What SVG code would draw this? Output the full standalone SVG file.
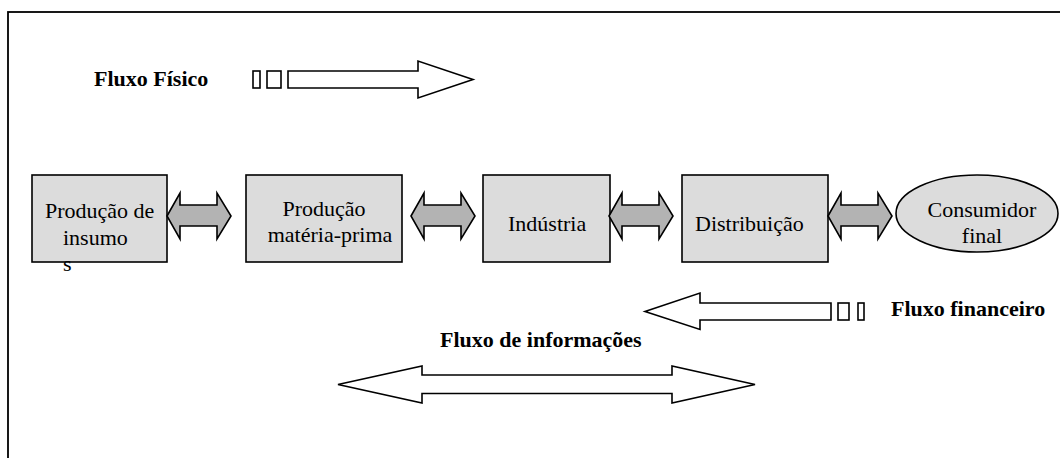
<svg xmlns="http://www.w3.org/2000/svg" xmlns:xlink="http://www.w3.org/1999/xlink" width="1060" height="458" viewBox="0 0 1060 458">
<style>
.box{fill:#dcdcdc;stroke:#000;stroke-width:1.6}
.t{font-family:"Liberation Serif","Times New Roman",serif;font-size:22px;fill:#000}
.b{font-family:"Liberation Serif","Times New Roman",serif;font-size:22px;font-weight:bold;fill:#000}
.dbl{fill:#b3b3b3;stroke:#000;stroke-width:1.6;stroke-linejoin:miter}
.flow{fill:#fff;stroke:#000;stroke-width:1.6}
</style>
<defs>
<polygon id="dblarrow" points="0,23 13,0 13,12 50,12 50,0 64,23 50,46 50,33 13,33 13,46"/>
</defs>
<rect x="0" y="0" width="1060" height="458" fill="#fff"/>
<rect x="8" y="12" width="1070" height="470" fill="none" stroke="#000" stroke-width="1.8"/>

<g id="fluxo-fisico">
<text class="b" x="94" y="86">Fluxo Físico</text>
<rect class="flow" x="253" y="71" width="7" height="17"/>
<rect class="flow" x="267" y="71" width="14" height="17"/>
<polygon class="flow" points="288,71 418,71 418,61 473,79.5 418,98 418,88 288,88"/>
</g>

<g id="n1">
<rect class="box" x="32" y="175" width="135" height="87"/>
<text class="t" x="45" y="218">Produção de</text>
<text class="t" x="63" y="245">insumo</text>
<text class="t" x="63" y="271">s</text>
</g>
<g id="n2">
<rect class="box" x="246" y="175" width="156" height="87"/>
<text class="t" x="324" y="216" text-anchor="middle">Produção</text>
<text class="t" x="330" y="242" text-anchor="middle">matéria-prima</text>
</g>
<g id="n3">
<rect class="box" x="483" y="175" width="127" height="87"/>
<text class="t" x="508" y="231">Indústria</text>
</g>
<g id="n4">
<rect class="box" x="682" y="175" width="146" height="87"/>
<text class="t" x="695" y="231">Distribuição</text>
</g>
<g id="n5">
<ellipse class="box" cx="977" cy="213.5" rx="81" ry="38.5"/>
<text class="t" x="982" y="217" text-anchor="middle">Consumidor</text>
<text class="t" x="982" y="243" text-anchor="middle">final</text>
</g>

<g id="connectors">
<use xlink:href="#dblarrow" class="dbl" x="167" y="193"/>
<use xlink:href="#dblarrow" class="dbl" x="411" y="193"/>
<use xlink:href="#dblarrow" class="dbl" x="609" y="193"/>
<use xlink:href="#dblarrow" class="dbl" x="828" y="193"/>
</g>

<g id="fluxo-financeiro">
<polygon class="flow" points="831,303 700,303 700,293 645,311.5 700,329.5 700,320 831,320"/>
<rect class="flow" x="838" y="303" width="11" height="17"/>
<rect class="flow" x="858" y="303" width="6" height="17"/>
<text class="b" x="891" y="316">Fluxo financeiro</text>
</g>

<g id="fluxo-informacoes">
<text class="b" x="440" y="347">Fluxo de informações</text>
<polygon class="flow" points="338,384.5 422,366 422,375 672,375 672,366 755,384.5 672,403 672,393.5 422,393.5 422,403"/>
</g>
</svg>
